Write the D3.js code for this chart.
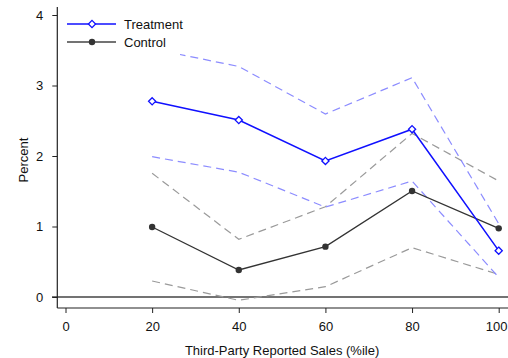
<!DOCTYPE html>
<html>
<head>
<meta charset="utf-8">
<script src="https://cdn.jsdelivr.net/npm/d3@7/dist/d3.min.js"></script>
<style>
  html, body { margin: 0; padding: 0; background: #fff; }
  svg { display: block; font-family: "Liberation Sans", Arial, sans-serif; }
</style>
</head>
<body>
<svg id="chart" width="508" height="358"></svg>
<script>
// Percentile bins of third-party reported sales
const pctiles = [20, 40, 60, 80, 100];

// Treatment group: point estimate and 95% CI
const treatment      = [2.776, 2.51, 1.93, 2.38, 0.657];
const treatmentUpper = [3.52, 3.27, 2.596, 3.11, 1.04];
const treatmentLower = [1.99, 1.77, 1.275, 1.645, 0.28];

// Control group: point estimate and 95% CI
const control      = [0.993, 0.383, 0.714, 1.504, 0.974];
const controlUpper = [1.755, 0.818, 1.28, 2.32, 1.645];
const controlLower = [0.227, -0.047, 0.146, 0.70, 0.32];

const xTicks = [0, 20, 40, 60, 80, 100];
const yTicks = [0, 1, 2, 3, 4];

const svg = d3.select("#chart");
const x = d3.scaleLinear().domain([0, 100]).range([65.5, 498.7]);
const y = d3.scaleLinear().domain([0, 4]).range([297, 15]);

const axisColor = "#222";
const fontSize = 13;

// Zero reference line
svg.append("line")
  .attr("x1", 52).attr("x2", 508)
  .attr("y1", y(0)).attr("y2", y(0))
  .attr("stroke", "#444").attr("stroke-width", 1.3);

const line = d3.line().x((d, i) => x(pctiles[i])).y(d => y(d));

function drawSeries(vals, color, width, dash) {
  svg.append("path")
    .attr("d", line(vals))
    .attr("fill", "none")
    .attr("stroke", color)
    .attr("stroke-width", width)
    .attr("stroke-dasharray", dash || null);
}

// Confidence bands
drawSeries(controlUpper, "#9a9a9a", 1.2, "8,5");
drawSeries(controlLower, "#9a9a9a", 1.2, "8,5");
drawSeries(treatmentUpper, "#8c8cff", 1.2, "8,5");
drawSeries(treatmentLower, "#8c8cff", 1.2, "8,5");

// Point estimates
drawSeries(control, "#333", 1.3);
drawSeries(treatment, "#1010ff", 1.5);

function diamondPath(cx, cy) {
  const r = 3.6;
  return `M${cx},${cy - r}L${cx + r},${cy}L${cx},${cy + r}L${cx - r},${cy}Z`;
}

svg.selectAll(".cdot").data(control).enter().append("circle")
  .attr("cx", (d, i) => x(pctiles[i])).attr("cy", d => y(d))
  .attr("r", 3.2).attr("fill", "#333");

svg.selectAll(".tdot").data(treatment).enter().append("path")
  .attr("d", (d, i) => diamondPath(x(pctiles[i]), y(d)))
  .attr("fill", "#fff").attr("stroke", "#1010ff").attr("stroke-width", 1.3);

// Legend (white box over plot)
const lg = svg.append("g");
lg.append("rect").attr("x", 60).attr("y", 10).attr("width", 120).attr("height", 46).attr("fill", "#fff");
lg.append("line").attr("x1", 67).attr("x2", 116).attr("y1", 24).attr("y2", 24)
  .attr("stroke", "#1010ff").attr("stroke-width", 1.5);
lg.append("path").attr("d", diamondPath(92, 24))
  .attr("fill", "#fff").attr("stroke", "#1010ff").attr("stroke-width", 1.3);
lg.append("text").attr("x", 124).attr("y", 24).attr("dy", "0.35em")
  .attr("font-size", fontSize).attr("fill", "#111").text("Treatment");
lg.append("line").attr("x1", 67).attr("x2", 116).attr("y1", 42).attr("y2", 42)
  .attr("stroke", "#444").attr("stroke-width", 1.5);
lg.append("circle").attr("cx", 92).attr("cy", 42).attr("r", 3.2).attr("fill", "#333");
lg.append("text").attr("x", 124).attr("y", 42).attr("dy", "0.35em")
  .attr("font-size", fontSize).attr("fill", "#111").text("Control");

// Y axis
const yAxis = svg.append("g").attr("transform", "translate(57.3,0)")
  .call(d3.axisLeft(y).tickValues(yTicks).tickSize(5).tickPadding(9).tickFormat(d3.format("d")));
yAxis.select(".domain").attr("d", `M0,7V308`).attr("stroke", axisColor).attr("stroke-width", 1.2);
yAxis.selectAll(".tick line").attr("stroke", axisColor);
yAxis.selectAll("text").attr("font-size", fontSize).attr("fill", "#111").attr("font-family", "Liberation Sans, Arial, sans-serif");

// X axis
const xAxis = svg.append("g").attr("transform", "translate(0,308)")
  .call(d3.axisBottom(x).tickValues(xTicks).tickSize(5).tickPadding(9).tickFormat(d3.format("d")));
xAxis.select(".domain").attr("d", `M57.3,0H508`).attr("stroke", axisColor).attr("stroke-width", 1.2);
xAxis.selectAll(".tick line").attr("stroke", axisColor);
xAxis.selectAll("text").attr("font-size", fontSize).attr("fill", "#111").attr("font-family", "Liberation Sans, Arial, sans-serif");
// keep the last tick label inside the right edge
xAxis.selectAll(".tick").filter(d => d === 100).select("text")
  .attr("text-anchor", "end").attr("x", 508 - x(100) - 1);

// Axis titles
svg.append("text").attr("x", x(50)).attr("y", 355).attr("text-anchor", "middle")
  .attr("font-size", fontSize).attr("fill", "#111").text("Third-Party Reported Sales (%ile)");
svg.append("text").attr("transform", "translate(28,160) rotate(-90)").attr("text-anchor", "middle")
  .attr("font-size", fontSize).attr("fill", "#111").text("Percent");
</script>
</body>
</html>
